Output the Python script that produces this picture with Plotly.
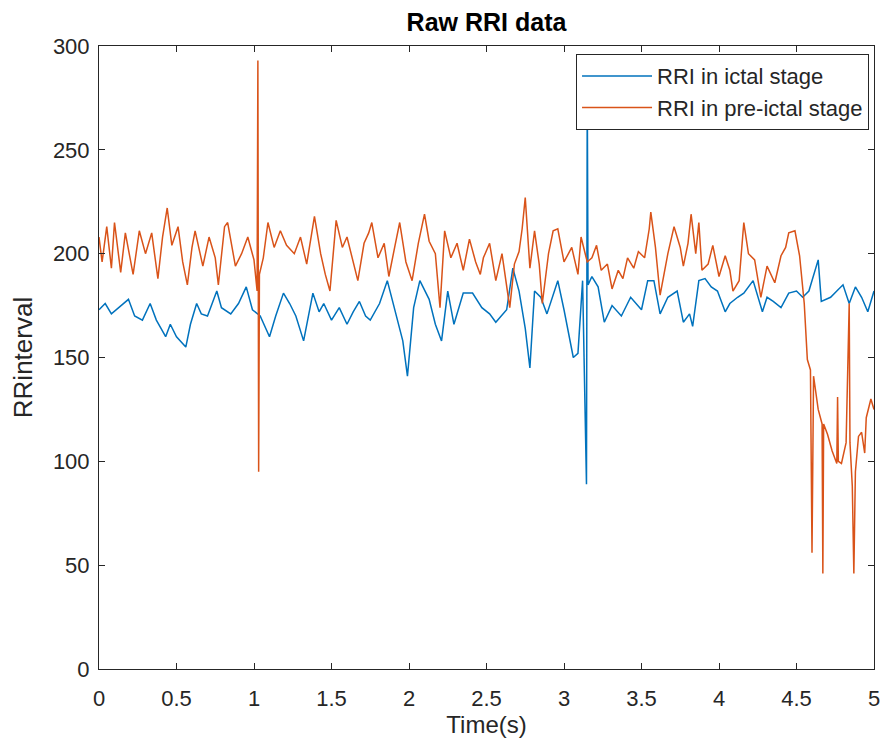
import plotly.graph_objects as go

# Ictal stage RRI (blue)
t_ictal = [0.00, 0.04, 0.08, 0.13, 0.19, 0.23, 0.28, 0.33, 0.37, 0.43, 0.46, 0.50, 0.56, 0.59,
           0.63, 0.66, 0.70, 0.76, 0.79, 0.85, 0.90, 0.95, 0.99, 1.04, 1.10, 1.14, 1.19, 1.23,
           1.27, 1.32, 1.38, 1.42, 1.45, 1.50, 1.55, 1.60, 1.64, 1.68, 1.72, 1.75, 1.81, 1.86,
           1.91, 1.96, 1.99, 2.03, 2.07, 2.13, 2.17, 2.21, 2.25, 2.29, 2.35, 2.41, 2.47,
           2.52, 2.56, 2.63, 2.67, 2.71, 2.75, 2.78, 2.81, 2.85, 2.89, 2.96, 3.00, 3.06, 3.09,
           3.12, 3.145, 3.15, 3.155, 3.18, 3.22, 3.26, 3.31, 3.37, 3.43, 3.50, 3.54, 3.58, 3.62,
           3.67, 3.73, 3.77, 3.81, 3.83, 3.87, 3.91, 3.95, 3.99, 4.04, 4.07, 4.12, 4.16, 4.22,
           4.28, 4.31, 4.35, 4.40, 4.45, 4.50, 4.54, 4.58, 4.64, 4.66, 4.72, 4.76, 4.80, 4.84,
           4.88, 4.92, 4.96, 5.00]
rri_ictal = [173, 176, 171, 174, 178, 170, 168, 176, 168, 160, 166, 160, 155, 166,
             176, 171, 170, 182, 174, 171, 176, 184, 173, 170, 160, 170, 181, 176,
             170, 158, 181, 172, 176, 168, 174, 166, 172, 177, 170, 168, 176, 187,
             172, 158, 141, 174, 187, 178, 166, 158, 182, 166, 181, 181, 174,
             171, 167, 173, 193, 182, 164, 145, 182, 179, 171, 187, 173, 150, 152,
             187, 89, 280, 185, 189, 184, 167, 175, 170, 179, 173, 187, 187, 171,
             179, 182, 167, 171, 165, 187, 188, 184, 182, 172, 176, 179, 181, 187,
             172, 179, 177, 174, 181, 182, 179, 182, 197, 177, 179, 182, 185, 176,
             184, 179, 172, 182]

# Pre-ictal stage RRI (orange)
t_pre = [0.00, 0.02, 0.05, 0.08, 0.10, 0.14, 0.17, 0.22, 0.26, 0.30, 0.34, 0.38, 0.41, 0.44,
         0.47, 0.51, 0.54, 0.57, 0.60, 0.62, 0.67, 0.71, 0.75, 0.77, 0.81, 0.83, 0.88, 0.92,
         0.96, 1.00, 1.02, 1.025, 1.03, 1.035, 1.06, 1.09, 1.13, 1.17, 1.21,
         1.26, 1.30, 1.34, 1.39, 1.43, 1.46, 1.49, 1.53, 1.57, 1.60, 1.64, 1.67, 1.71, 1.74,
         1.76, 1.80, 1.84, 1.87, 1.91, 1.94, 1.98, 2.02, 2.06, 2.10, 2.13, 2.17, 2.20, 2.23,
         2.27, 2.31, 2.35, 2.39, 2.43, 2.46,
         2.48, 2.52, 2.56, 2.60, 2.65, 2.68, 2.71, 2.73, 2.75, 2.78, 2.81, 2.84, 2.86, 2.90,
         2.93, 2.96, 3.00, 3.05, 3.09, 3.11, 3.15, 3.18, 3.21, 3.24, 3.28, 3.31, 3.35, 3.38,
         3.41, 3.45, 3.48, 3.52, 3.55, 3.56, 3.59, 3.62, 3.67, 3.71, 3.75,
         3.77, 3.80, 3.82, 3.85, 3.87, 3.89, 3.93, 3.96, 4.00, 4.04, 4.07, 4.09, 4.13, 4.16,
         4.19, 4.23, 4.27, 4.31, 4.36, 4.40, 4.43, 4.45, 4.49, 4.52, 4.55, 4.57, 4.59, 4.60,
         4.61, 4.64, 4.665, 4.67, 4.675, 4.70, 4.73, 4.76, 4.765, 4.77, 4.79, 4.82, 4.84,
         4.845, 4.86, 4.87, 4.88, 4.90, 4.92, 4.94, 4.95, 4.98, 5.00]
rri_pre = [208, 196, 213, 193, 215, 191, 210, 190, 211, 200, 210, 188, 208, 222,
           204, 213, 196, 185, 203, 211, 194, 208, 198, 185, 213, 215, 194, 200,
           208, 197, 182, 293, 95, 190, 198, 215, 203, 211, 204,
           200, 208, 195, 218, 200, 190, 182, 216, 203, 208, 196, 187, 205, 210,
           215, 198, 205, 189, 204, 215, 196, 187, 205, 219, 206, 200, 174, 211,
           198, 205, 192, 207, 196, 190,
           198, 205, 187, 200, 174, 195, 201, 212, 227, 193, 211, 195, 176, 200,
           211, 212, 196, 203, 190, 208, 196, 198, 204, 192, 195, 183, 192, 188,
           198, 193, 201, 198, 212, 220, 203, 180, 200, 213, 203,
           194, 205, 219, 200, 215, 192, 195, 204, 189, 199, 192, 182, 187, 215,
           200, 197, 179, 194, 186, 199, 203, 210, 211, 199, 176, 149, 144, 56,
           141, 125, 118, 46, 118, 113, 105, 99, 131, 100, 99, 109, 176,
           109, 88, 46, 95, 112, 114, 104, 121, 130, 125]

x_ticks = [0, 0.5, 1, 1.5, 2, 2.5, 3, 3.5, 4, 4.5, 5]
x_tick_text = ["0", "0.5", "1", "1.5", "2", "2.5", "3", "3.5", "4", "4.5", "5"]
y_ticks = [0, 50, 100, 150, 200, 250, 300]

FONT = "Liberation Sans, Arial, sans-serif"
TXT = "#262626"

fig = go.Figure()
fig.add_trace(go.Scatter(x=t_ictal, y=rri_ictal, mode="lines", name="RRI in ictal stage",
                         line=dict(color="#0072BD", width=1.5)))
fig.add_trace(go.Scatter(x=t_pre, y=rri_pre, mode="lines", name="RRI in pre-ictal stage",
                         line=dict(color="#D95319", width=1.5)))

axis_common = dict(showgrid=False, zeroline=False, showline=True, linecolor="#262626",
                   linewidth=1, mirror="ticks", ticks="inside", ticklen=6,
                   tickcolor="#262626", tickfont=dict(family=FONT, size=22, color=TXT))

fig.update_layout(
    width=891, height=747,
    margin=dict(l=99, r=11, t=46, b=78),
    paper_bgcolor="white", plot_bgcolor="white",
    title=dict(text="<b>Raw RRI data</b>", x=0.5, xref="paper", y=0.97, yanchor="middle",
               xanchor="center", font=dict(family=FONT, size=25, color="#000000")),
    xaxis=dict(range=[0, 5], tickvals=x_ticks, ticktext=x_tick_text, ticklabelstandoff=10,
               title=dict(text="Time(s)", font=dict(family=FONT, size=24, color=TXT), standoff=4),
               **axis_common),
    yaxis=dict(range=[0, 300], tickvals=y_ticks, ticklabelstandoff=4,
               title=dict(text="RRinterval", font=dict(family=FONT, size=26, color=TXT), standoff=12),
               **axis_common),
    legend=dict(x=0.9936, y=0.987, xanchor="right", yanchor="top",
                bgcolor="white", bordercolor="#262626", borderwidth=1,
                font=dict(family=FONT, size=22, color=TXT), itemwidth=70,
                tracegroupgap=0),
    showlegend=True,
)

fig.write_html("out.html")
